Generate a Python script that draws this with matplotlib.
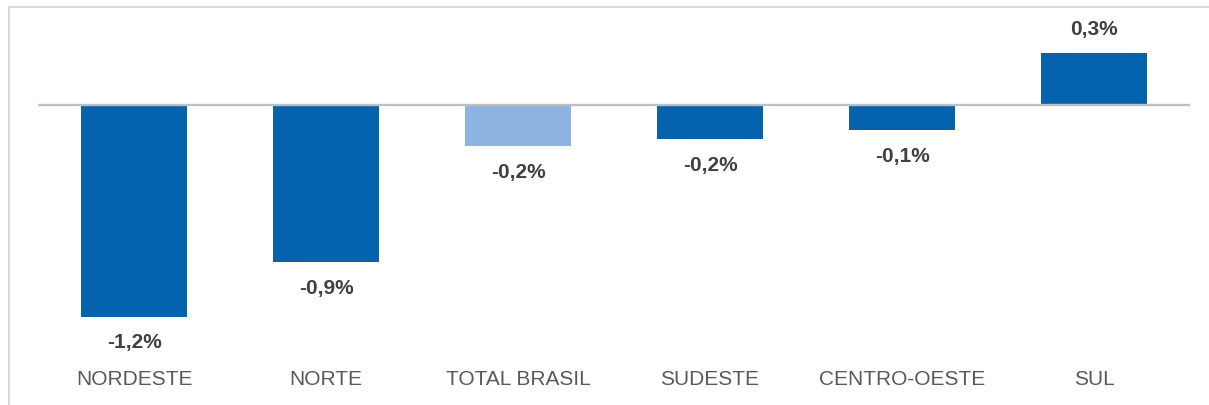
import matplotlib
matplotlib.use("Agg")
import matplotlib.pyplot as plt
from matplotlib.lines import Line2D

categories = ["NORDESTE", "NORTE", "TOTAL BRASIL", "SUDESTE", "CENTRO-OESTE", "SUL"]
values = [-1.2, -0.89, -0.23, -0.19, -0.14, 0.30]
value_labels = ["-1,2%", "-0,9%", "-0,2%", "-0,2%", "-0,1%", "0,3%"]
highlight = "TOTAL BRASIL"

DARK = "#0563AE"
LIGHT = "#8DB3E2"

plt.rcParams['font.family'] = ['Liberation Sans Narrow', 'Liberation Sans', 'DejaVu Sans']

W, H = 1209, 405
fig = plt.figure(figsize=(W / 100, H / 100), dpi=100)
fig.patch.set_facecolor("white")

# outer frame (top and left edges)
fig.add_artist(Line2D([9 / W, 1.0], [1 - 7 / H, 1 - 7 / H], transform=fig.transFigure,
                      color="#d9d9d9", lw=1.5))
fig.add_artist(Line2D([9 / W, 9 / W], [0, 1 - 7 / H], transform=fig.transFigure,
                      color="#d9d9d9", lw=1.5))

ax = fig.add_axes([38 / W, (H - 345) / H, 1152 / W, (345 - 8) / H])
colors = [LIGHT if c == highlight else DARK for c in categories]
x = list(range(len(categories)))
ax.bar(x, values, width=0.557, color=colors, zorder=2)
ax.axhline(0, color="#bfbfbf", lw=1.7, zorder=3)

ax.set_xlim(-0.5, 5.5)
ax.set_ylim(-1.361, 0.554)

for xi, v, lab in zip(x, values, value_labels):
    if v < 0:
        ax.annotate(lab, (xi, v), xytext=(0, -12), textcoords="offset points",
                    ha="center", va="top", fontsize=15, fontweight="bold", color="#404040")
    else:
        ax.annotate(lab, (xi, v), xytext=(0, 10), textcoords="offset points",
                    ha="center", va="bottom", fontsize=15, fontweight="bold", color="#404040")

ax.set_xticks(x)
ax.set_xticklabels(categories, fontsize=15, color="#595959")
ax.tick_params(axis="x", length=0, pad=18)
ax.set_yticks([])
for s in ax.spines.values():
    s.set_visible(False)
ax.patch.set_alpha(0)

fig.savefig("out.png", dpi=100)
